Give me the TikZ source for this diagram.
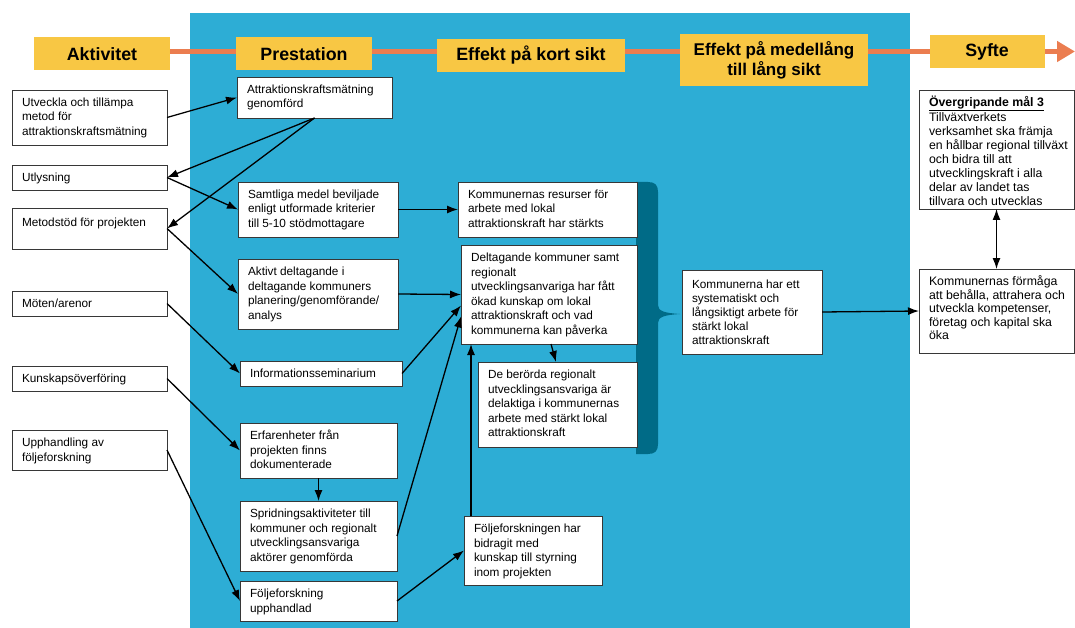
\documentclass[tikz,border=0pt]{standalone}
\usepackage{fontspec}
\setmainfont{Liberation Sans}
\usetikzlibrary{arrows.meta,calc}
\definecolor{bgblue}{RGB}{45,173,213}
\definecolor{bracecol}{RGB}{0,107,135}
\definecolor{hdy}{RGB}{248,199,68}
\definecolor{orng}{RGB}{235,125,80}
\definecolor{bord}{RGB}{55,55,55}
\tikzset{
  bx/.style={draw=bord, fill=white, line width=0.9pt, inner sep=0pt, outer sep=0pt},
  tx/.style={inner sep=0pt, outer sep=0pt, align=left, text=black},
  hd/.style={fill=hdy, inner sep=0pt, font=\fontsize{17.8}{20}\selectfont\bfseries, align=center},
  arr/.style={draw=black, line width=1.3pt, -{Latex[length=11pt,width=8pt]}},
  arrtwo/.style={draw=black, line width=1.3pt, {Latex[length=11pt,width=8pt]}-{Latex[length=11pt,width=8pt]}}
}
% #1 name, #2 x1, #3 y1, #4 x2, #5 y2, #6 font size, #7 line spacing, #8 text
\newcommand\mkbox[8]{%
  \node[bx, anchor=north west, minimum width={(#4-#2)*1pt}, minimum height={(#5-#3)*1pt}] (#1) at (#2,#3) {};
  \node[tx, anchor=north west, font=\fontsize{#6}{#7}\selectfont] (#1-t) at ([shift={(10,5.5)}]#1.north west) {\rule{0pt}{11pt}#8};
}
\begin{document}
\begin{tikzpicture}[x=1pt,y=-1pt]
\useasboundingbox (0,0) rectangle (1075,628);
\fill[white] (0,0) rectangle (1075,628);
\fill[bgblue] (190,13) rectangle (910,628);
% brace
\fill[bracecol] (636,182) -- (648,182) .. controls (655,182) and (658,185) .. (658,192) -- (658,305)
  .. controls (658,311) and (664,313) .. (680,314) .. controls (664,315) and (658,317) .. (658,323)
  -- (658,444) .. controls (658,451) and (655,454) .. (648,454) -- (636,454) -- cycle;
% orange time line
\coordinate (ostart) at (170,51.5);
\coordinate (otip) at (1075,51.5);
\draw[orng, line width=5pt, -{Triangle[length=18pt,width=20pt]}] (ostart) -- (otip);
% headers
\node[hd, minimum width=136pt, minimum height=33pt] (hakt) at (102,54) {Aktivitet};
\node[hd, minimum width=136pt, minimum height=33pt] (hpre) at (304,54) {Prestation};
\node[hd, minimum width=188pt, minimum height=33pt] (hkort) at (531,55.5) {Effekt på kort sikt};
\node[hd, minimum width=188pt, minimum height=52pt, font=\fontsize{17}{20}\selectfont\bfseries] (hmed) at (774,60) {Effekt på medellång\\till lång sikt};
\node[hd, minimum width=115pt, minimum height=33pt] (hsyf) at (987,52) {Syfte};
% activity boxes
\mkbox{a1}{12}{90}{167}{145}{11.8}{14.5}{Utveckla och tillämpa\\metod för\\attraktionskraftsmätning}
\mkbox{a2}{12}{165}{167}{190}{11.8}{14.5}{Utlysning}
\mkbox{a3}{12}{208}{167}{249}{11.8}{14.5}{\rule{0pt}{12.5pt}Metodstöd för projekten}
\mkbox{a4}{12}{291}{167}{316}{11.8}{14.5}{Möten/arenor}
\mkbox{a5}{12}{366}{167}{391}{11.8}{14.5}{Kunskapsöverföring}
\mkbox{a6}{12}{430}{167}{470}{11.8}{14.5}{Upphandling av\\följeforskning}
% prestation boxes
\mkbox{p1}{237}{77}{392}{118}{11.8}{14.5}{Attraktionskraftsmätning\\genomförd}
\mkbox{p2}{238}{182}{398}{237}{11.8}{14.5}{Samtliga medel beviljade\\enligt utformade kriterier\\till 5-10 stödmottagare}
\mkbox{p3}{238}{259}{398}{329}{11.8}{14.5}{Aktivt deltagande i\\deltagande kommuners\\planering/genomförande/\\analys}
\mkbox{p4}{240}{361}{402}{386}{11.8}{14.5}{Informationsseminarium}
\mkbox{p5}{240}{423}{397}{478}{11.8}{14.5}{Erfarenheter från\\projekten finns\\dokumenterade}
\mkbox{p6}{240}{501}{397}{571}{11.8}{14.5}{Spridningsaktiviteter till\\kommuner och regionalt\\utvecklingsansvariga\\aktörer genomförda}
\mkbox{p7}{240}{581}{397}{621}{11.8}{14.5}{Följeforskning\\upphandlad}
% short term
\mkbox{s1}{458}{182}{637}{237}{11.8}{14.5}{Kommunernas resurser för\\arbete med lokal\\attraktionskraft har stärkts}
\mkbox{s2}{461}{245}{637}{344}{11.8}{14.5}{Deltagande kommuner samt\\regionalt\\utvecklingsanvariga har fått\\ökad kunskap om lokal\\attraktionskraft och vad\\kommunerna kan påverka}
\mkbox{s3}{478}{362}{637}{447}{11.8}{14.5}{De berörda regionalt\\utvecklingsansvariga är\\delaktiga i kommunernas\\arbete med stärkt lokal\\attraktionskraft}
\mkbox{s4}{464}{516}{602}{585}{11.8}{14.5}{Följeforskningen har\\bidragit med\\kunskap till styrning\\inom projekten}
% medium term
\mkbox{m1}{682}{270}{822}{354}{11.8}{14}{\rule{0pt}{12.5pt}Kommunerna har ett\\systematiskt och\\långsiktigt arbete för\\stärkt lokal\\attraktionskraft}
% purpose
\mkbox{g1}{919}{90}{1074}{209}{12.3}{13.9}{\textbf{\underline{Övergripande mål 3}}\\[1.5pt]Tillväxtverkets\\verksamhet ska främja\\en hållbar regional tillväxt\\och bidra till att\\utvecklingskraft i alla\\delar av landet tas\\tillvara och utvecklas}
\mkbox{g2}{919}{269}{1074}{353}{12.3}{13.6}{Kommunernas förmåga\\att behålla, attrahera och\\utveckla kompetenser,\\företag och kapital ska\\öka}
% connectors
\draw[arr] (a1.east) -- (p1.west);
\draw[arr] (p1.south) -- (a2.east);
\draw[arr] (p1.south) -- (a3.east);
\draw[arr] (a2.east) -- (p2.west);
\draw[arr] (a3.east) -- (p3.west);
\draw[arr] (a4.east) -- (p4.west);
\draw[arr] (a5.east) -- (p5.west);
\draw[arr] (a6.east) -- (p7.west);
\draw[arr] (p5.south) -- (p6.north);
\draw[arr] (p2.east) -- (s1.west);
\draw[arr] (p3.east) -- (s2.west);
\draw[arr] (p4.east) -- ([shift={(0,11)}]s2.west);
\draw[arr] (p6.east) -- ([shift={(0,22)}]s2.west);
\coordinate (s4up) at ([shift={(7,0)}]s4.north west);
\draw[arr] (s4up) -- (s4up |- s2.south);
\draw[arr] (p7.east) -- (s4.west);
\draw[arr] ([shift={(90,0)}]s2.south west) -- ([shift={(78,0)}]s3.north west);
\draw[arr] (m1.east) -- (g2.west);
\draw[arrtwo] (g1.south) -- (g2.north);
\end{tikzpicture}
\end{document}
